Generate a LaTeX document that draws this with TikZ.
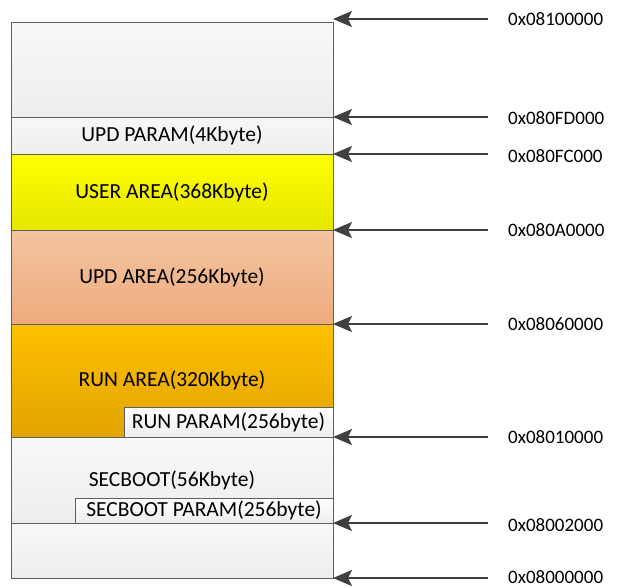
\documentclass[tikz,border=0pt]{standalone}
\usepackage{fontspec}
\setmainfont{Carlito}
\usetikzlibrary{arrows.meta, positioning}
\definecolor{cline}{HTML}{5F5F5F}
\definecolor{carrow}{HTML}{404040}
\definecolor{cgreyA}{HTML}{F8F8F8}
\definecolor{cgreyB}{HTML}{EDEDED}
\definecolor{cyelA}{HTML}{FFFF00}
\definecolor{cyelB}{HTML}{E6E600}
\definecolor{cpeachA}{HTML}{F4C4A0}
\definecolor{cpeachB}{HTML}{EDAB7D}
\definecolor{cgoldA}{HTML}{FFC000}
\definecolor{cgoldB}{HTML}{E2A400}
\tikzset{
  every picture/.style={font=\fontsize{21.5}{25}\selectfont},
  region/.style={draw=cline, line width=0.8pt, anchor=north west, inner sep=0pt, outer sep=0pt,
    minimum width=322pt, top color=#1A, bottom color=#1B},
  region/.default=cgrey,
  param/.style={draw=cline, line width=0.8pt, anchor=south east, inner sep=0pt, outer sep=0pt,
    minimum height=30pt, top color=white, bottom color=cgreyB},
  addr/.style={inner xsep=0pt, inner ysep=0pt, font=\fontsize{19}{22}\selectfont},
  arrow/.style={-{Stealth[length=19pt, width=16pt, inset=4pt]}, draw=carrow, line width=2.4pt},
}
\begin{document}
\begin{tikzpicture}[x=1pt, y=-1pt]
  \useasboundingbox (0,0) rectangle (617,587);

  % flash regions, top down
  \node[region, minimum height=95pt] (free) at (11,22) {};
  \node[region, minimum height=37pt] (updparam) at (free.south west) {UPD PARAM(4Kbyte)};
  \node[region=cyel, minimum height=76pt] (user) at (updparam.south west) {USER AREA(368Kbyte)};
  \node[region=cpeach, minimum height=94pt] (upd) at (user.south west) {UPD AREA(256Kbyte)};
  \node[region=cgold, minimum height=113pt] (run) at (upd.south west) {RUN AREA(320Kbyte)};
  \node[region, minimum height=86pt] (secboot) at (run.south west) {SECBOOT(56Kbyte)};
  \node[region, minimum height=55pt] (bottom) at (secboot.south west) {};

  % parameter blocks
  \node[param, minimum width=209pt] (runparam) at (run.south east) {RUN PARAM(256byte)};
  \node[param, minimum width=258pt, minimum height=25pt] (secparam) at (secboot.south east) {SECBOOT PARAM(256byte)};

  % addresses
  \node[addr, right=175pt of free.north east, yshift=3pt] (a0) {0x08100000};
  \node[addr, right=175pt of free.south east, yshift=-1pt] (a1) {0x080FD000};
  \node[addr, right=175pt of user.north east, yshift=-2pt] (a2) {0x080FC000};
  \node[addr, right=175pt of user.south east] (a3) {0x080A0000};
  \node[addr, right=175pt of run.north east] (a4) {0x08060000};
  \node[addr, right=175pt of run.south east] (a5) {0x08010000};
  \node[addr, right=175pt of bottom.north east, yshift=-2pt] (a6) {0x08002000};
  \node[addr, right=175pt of bottom.south east, yshift=1pt] (a7) {0x08000000};

  \draw[arrow] ([xshift=-20pt]a0.west) -- (a0.west -| free.east);
  \draw[arrow] ([xshift=-20pt]a1.west |- free.south) -- (free.south east);
  \draw[arrow] ([xshift=-20pt]a2.west |- user.north) -- (user.north east);
  \draw[arrow] ([xshift=-20pt]a3.west) -- (user.south east);
  \draw[arrow] ([xshift=-20pt]a4.west) -- (run.north east);
  \draw[arrow] ([xshift=-20pt]a5.west) -- (run.south east);
  \draw[arrow] ([xshift=-20pt]a6.west |- bottom.north) -- (bottom.north east);
  \draw[arrow] ([xshift=-20pt]a7.west |- bottom.south) -- (bottom.south east);
\end{tikzpicture}
\end{document}
